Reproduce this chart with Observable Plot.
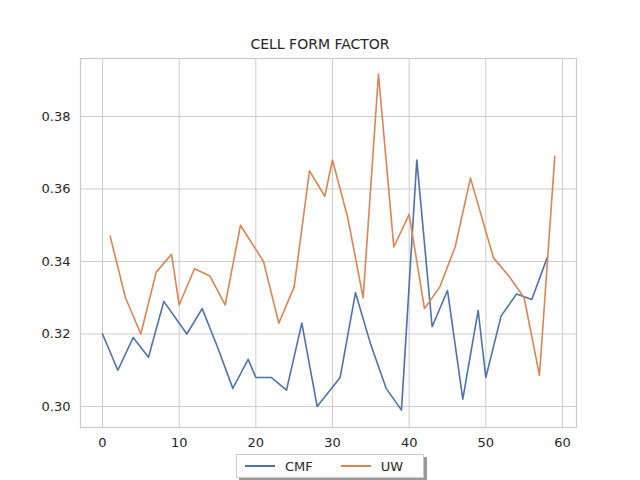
<!DOCTYPE html>
<html>
<head>
<meta charset="utf-8">
<script src="https://cdn.jsdelivr.net/npm/d3@7"></script>
<script src="https://cdn.jsdelivr.net/npm/@observablehq/plot@0.6"></script>
<style>
  body { margin: 0; width: 640px; height: 480px; background: #fff; font-family: "DejaVu Sans", sans-serif; position: relative; overflow: hidden; }
  #title { height: 52px; line-height: 14px; box-sizing: border-box; padding-top: 37px; text-align: center; font-size: 14px; color: #262626; }
  #legend { position: absolute; left: 236px; top: 454px; width: 186px; height: 22px; border: 1px solid #ccc; background: #fff;
            box-shadow: 3px 3px 0 #999; display: flex; align-items: center; font-size: 13px; color: #262626; }
  .sw { display: inline-block; width: 30px; height: 2px; margin: 0 10px 0 8px; }
</style>
</head>
<body>
<div id="title">CELL FORM FACTOR</div>
<div id="chart"></div>
<div id="legend">
  <span class="sw" style="background:#4c72b0"></span>CMF
  <span class="sw" style="background:#dd8452;margin-left:28px"></span>UW
</div>
<script>
var cmfX = [0, 2, 4, 6, 8, 11, 13, 15, 17, 19, 20, 22, 24, 26, 28, 31, 33, 35, 37, 39, 41, 43, 45, 47, 49, 50, 52, 54, 56, 58];
var cmfY = [0.320, 0.310, 0.319, 0.3136, 0.329, 0.320, 0.327, 0.3164, 0.305, 0.313, 0.308, 0.308, 0.3045, 0.323, 0.300, 0.308,
            0.3314, 0.317, 0.305, 0.299, 0.368, 0.322, 0.332, 0.302, 0.3265, 0.308, 0.325, 0.331, 0.3295, 0.341];
var uwX = [1, 3, 5, 7, 9, 10, 12, 14, 16, 18, 21, 23, 25, 27, 29, 30, 32, 34, 36, 38, 40, 42, 44, 46, 48, 51, 53, 55, 57, 59];
var uwY = [0.347, 0.330, 0.320, 0.337, 0.342, 0.328, 0.338, 0.336, 0.328, 0.350, 0.340, 0.323, 0.333, 0.365, 0.358, 0.368,
           0.352, 0.330, 0.3917, 0.344, 0.353, 0.327, 0.333, 0.344, 0.363, 0.341, 0.336, 0.330, 0.3086, 0.369];
var xTicks = [0, 10, 20, 30, 40, 50, 60];
var yTicks = [0.30, 0.32, 0.34, 0.36, 0.38];

var cmf = cmfX.map((x, i) => ({x: x, y: cmfY[i]}));
var uw = uwX.map((x, i) => ({x: x, y: uwY[i]}));

let chart = Plot.plot({
  width: 640,
  height: 428,
  marginLeft: 80,
  marginRight: 64,
  marginTop: 6,
  marginBottom: 53,
  style: {fontFamily: "DejaVu Sans, sans-serif", fontSize: "13px", color: "#262626"},
  x: {domain: [-2.87, 61.83], ticks: xTicks, label: null, tickSize: 0, tickPadding: 10},
  y: {domain: [0.2942, 0.396], ticks: yTicks, label: null, tickSize: 0, tickPadding: 10, tickFormat: d3.format(".2f")},
  marks: [
    Plot.gridX(xTicks, {stroke: "#cccccc", strokeOpacity: 1, strokeWidth: 1}),
    Plot.gridY(yTicks, {stroke: "#cccccc", strokeOpacity: 1, strokeWidth: 1}),
    Plot.frame({stroke: "#cccccc", strokeWidth: 1.25}),
    Plot.axisX({ticks: xTicks, tickSize: 0, tickPadding: 10, fill: "#262626"}),
    Plot.axisY({ticks: yTicks, tickSize: 0, tickPadding: 10, tickFormat: d3.format(".2f"), fill: "#262626"}),
    Plot.line(cmf, {x: "x", y: "y", stroke: "#4c72b0", strokeWidth: 1.6}),
    Plot.line(uw, {x: "x", y: "y", stroke: "#dd8452", strokeWidth: 1.6})
  ]
});

d3.select("#chart").append(() => chart);
</script>
</body>
</html>
